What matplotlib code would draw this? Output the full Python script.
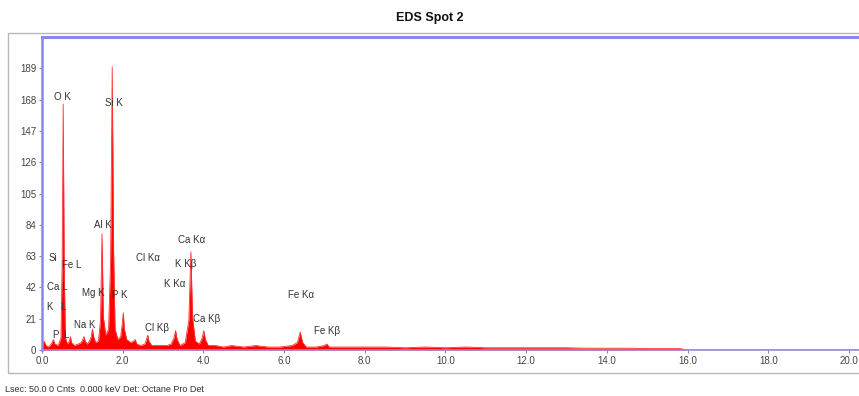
import matplotlib
matplotlib.use("Agg")
import matplotlib.pyplot as plt
from matplotlib.patches import Rectangle

plt.rcParams['font.family'] = ['Liberation Sans', 'DejaVu Sans']

# Spectrum: energy (keV) and counts
energy_keV = [0.00, 0.05, 0.10, 0.15, 0.20, 0.25, 0.28, 0.32, 0.40, 0.47, 0.50, 0.525, 0.55, 0.58,
              0.63, 0.68, 0.705, 0.73, 0.80, 0.90, 0.97, 1.01, 1.04, 1.07, 1.12, 1.18, 1.22, 1.25,
              1.28, 1.33, 1.40, 1.45, 1.487, 1.52, 1.58, 1.65, 1.70, 1.74, 1.775, 1.81, 1.88, 1.95,
              1.99, 2.015, 2.04, 2.10, 2.20, 2.27, 2.31, 2.35, 2.45, 2.55, 2.60, 2.62, 2.65, 2.72,
              2.85, 3.00, 3.10, 3.20, 3.27, 3.31, 3.35, 3.42, 3.55, 3.64, 3.69, 3.73, 3.80, 3.90,
              3.97, 4.01, 4.05, 4.12, 4.30, 4.50, 4.70, 5.00, 5.30, 5.60, 5.90, 6.20, 6.33, 6.40,
              6.46, 6.55, 6.80, 7.00, 7.06, 7.12, 7.50, 8.00, 8.50, 9.00, 9.50, 10.0, 10.5, 11.0,
              11.5, 12.0, 12.5, 13.0, 13.5, 14.0, 14.5, 15.0, 15.5, 15.8, 16.0, 20.25]
counts = [2, 6, 3, 2, 3, 5, 7, 4, 3, 8, 60, 165, 55, 8,
          4, 6, 9, 5, 3, 4, 5, 7, 9, 6, 4, 6, 9, 14,
          9, 5, 6, 20, 78, 22, 10, 14, 60, 190, 65, 14, 7, 9,
          18, 25, 14, 7, 5, 6, 7, 4, 3, 4, 8, 10, 6, 3,
          3, 3, 3, 4, 8, 13, 7, 3, 5, 20, 66, 22, 6, 4,
          8, 13, 7, 3, 3, 2, 3, 2, 3, 2, 2, 3, 5, 12,
          5, 2, 2, 3, 4, 2, 2, 2, 2, 1.5, 2, 1.5, 2, 1.5,
          1.5, 1.5, 1.5, 1.5, 1.2, 1.2, 1.2, 1.0, 1.0, 1.0, 0, 0]

# Peak labels: text, energy, count position
label_text = ["O K", "Si K", "Al K", "Si", "Fe L", "Ca L", "K", "L", "P", "L",
              "Mg K", "P K", "Na K", "Cl K\u03b1", "K K\u03b2", "K K\u03b1", "Ca K\u03b1",
              "Ca K\u03b2", "Cl K\u03b2", "Fe K\u03b1", "Fe K\u03b2"]
label_x = [0.30, 1.56, 1.29, 0.17, 0.49, 0.12, 0.10, 0.45, 0.26, 0.52,
           0.99, 1.73, 0.79, 2.33, 3.29, 3.02, 3.36,
           3.74, 2.55, 6.09, 6.73]
label_y = [170, 166, 84, 62, 57, 42, 29, 29, 10, 10,
           38, 37, 17, 62, 58, 44, 74,
           21, 15, 37, 13]

x_ticks = [0, 2, 4, 6, 8, 10, 12, 14, 16, 18, 20]
y_ticks = [0, 21, 42, 63, 84, 105, 126, 147, 168, 189]

W, H = 859, 396
fig = plt.figure(figsize=(W / 100, H / 100), dpi=100)
ax = fig.add_axes([42 / W, 1 - 350 / H, (W - 42) / W, (350 - 37) / H])

ax.fill_between(energy_keV, counts, 0, color='#ff0000', linewidth=0)
ax.plot(energy_keV, counts, color='#ff3030', linewidth=0.6)

for t, x, y in zip(label_text, label_x, label_y):
    ax.text(x, y, t, fontsize=7, color='#333333', ha='left', va='center')

ax.set_xlim(0, 20.25)
ax.set_ylim(0, 210)
ax.set_xticks(x_ticks)
ax.set_xticklabels([f"{v:.1f}" for v in x_ticks])
ax.set_yticks(y_ticks)
ax.tick_params(axis='both', labelsize=7, labelcolor='#444444', length=2, color='#8080e0', pad=2)

for s in ['right']:
    ax.spines[s].set_visible(False)
ax.spines['left'].set_color('#8888e8')
ax.spines['left'].set_linewidth(1.8)
ax.spines['top'].set_color('#8888e8')
ax.spines['top'].set_linewidth(2.2)
ax.spines['bottom'].set_color('#9a8ad8')
ax.spines['bottom'].set_linewidth(1.2)

# outer frame
fig.patches.append(Rectangle((8 / W, 1 - 373 / H), 1.0, (373 - 33) / H,
                             transform=fig.transFigure, fill=False,
                             edgecolor='#b8b8b8', linewidth=1.0))

fig.text(0.5, 1 - 18 / H, "EDS Spot 2", ha='center', va='center',
         fontsize=9, fontweight='bold', color='#111111')
fig.text(5 / W, 1 - 389 / H, "Lsec: 50.0 0 Cnts  0.000 keV Det: Octane Pro Det",
         ha='left', va='center', fontsize=6.5, color='#333333')

fig.savefig("out.png", dpi=100, facecolor='white')
